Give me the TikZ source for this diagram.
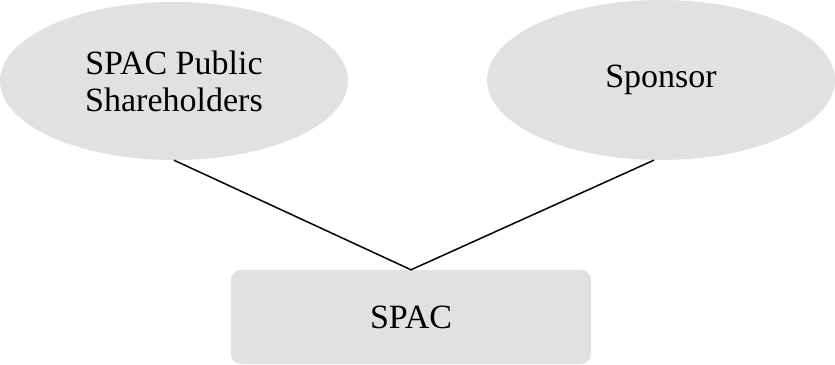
\documentclass[tikz,border=0pt]{standalone}
\usepackage{fontspec}
\setmainfont{Liberation Serif}
\usepackage{tikz}
\usetikzlibrary{shapes}
\usepackage{xcolor}
\definecolor{cinzaclaro}{RGB}{224,225,227}

\begin{document}
\begin{tikzpicture}[x=1pt,y=1pt,
    bolha/.style={ellipse, fill=cinzaclaro, inner sep=0pt, align=center,
                  font=\fontsize{34}{37}\selectfont},
    caixa/.style={rectangle, rounded corners=10pt, fill=cinzaclaro,
                  font=\fontsize{34}{37}\selectfont}]
% Moldura
\useasboundingbox (0,0) rectangle (835,364);

% Participantes
\node[bolha, minimum width=348pt, minimum height=158pt] (pub) at (174,283) {SPAC Public\\Shareholders};
\node[bolha, minimum width=348pt, minimum height=160pt] (spon) at (661,284) {Sponsor};

% Veículo
\node[caixa, minimum width=360pt, minimum height=94pt] (spac) at (411,47) {SPAC};

% Ligações
\draw[line width=1.5pt] (pub.south) -- (spac.north) -- (spon.265);
\end{tikzpicture}
\end{document}
